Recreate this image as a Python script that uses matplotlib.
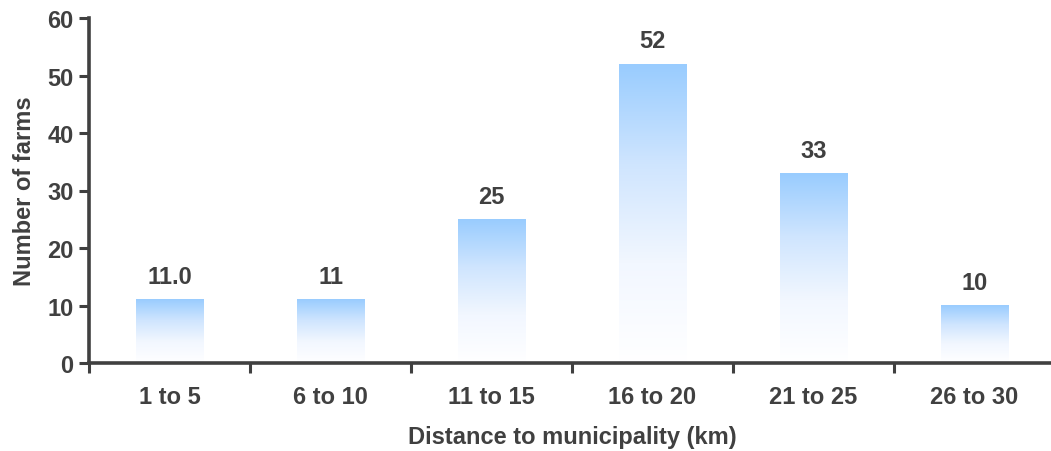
import numpy as np
import matplotlib
matplotlib.use("Agg")
import matplotlib.pyplot as plt
from matplotlib.colors import LinearSegmentedColormap

categories = ["1 to 5", "6 to 10", "11 to 15", "16 to 20", "21 to 25", "26 to 30"]
farms = [11.0, 11, 25, 52, 33, 10]
value_labels = ["11.0", "11", "25", "52", "33", "10"]
y_ticks = [0, 10, 20, 30, 40, 50, 60]

plt.rcParams["font.family"] = ["Liberation Sans", "DejaVu Sans"]
plt.rcParams["font.weight"] = "bold"
text_color = "#404040"
fs = 17

fig = plt.figure(figsize=(10.51, 4.52), dpi=100)
ax = fig.add_axes([89 / 1051, 88 / 452, 966 / 1051, 345 / 452])

cmap = LinearSegmentedColormap.from_list("fade", ["#ffffff", "#f2f7ff", "#cfe5fe", "#99ccff"])
grad = np.linspace(0, 1, 256).reshape(-1, 1)
bar_w = 0.42

x = np.arange(len(categories))
for xi, v, lab in zip(x, farms, value_labels):
    ax.imshow(grad, cmap=cmap, origin="lower", aspect="auto",
              extent=(xi - bar_w / 2, xi + bar_w / 2, 0, v), zorder=2)
    ax.text(xi, v + 2.0, lab, ha="center", va="bottom", fontsize=fs,
            fontweight="bold", color=text_color)

ax.set_xlim(-0.5, len(categories) - 0.5)
ax.set_ylim(0, 60)

for s in ["top", "right"]:
    ax.spines[s].set_visible(False)
for s in ["left", "bottom"]:
    ax.spines[s].set_linewidth(2.6)
    ax.spines[s].set_color(text_color)

ax.set_yticks(y_ticks)
ax.set_yticklabels([str(t) for t in y_ticks])
ax.set_xticks(x)
ax.set_xticklabels(categories)
ax.set_xticks(np.arange(len(categories) + 1) - 0.5, minor=True)
ax.tick_params(axis="x", which="major", length=0, pad=16, labelsize=fs, labelcolor=text_color)
ax.tick_params(axis="x", which="minor", length=7, width=2.2, color=text_color, direction="out")
ax.tick_params(axis="y", length=7, width=2.2, color=text_color, labelsize=fs,
               labelcolor=text_color, pad=4)

fig.text(572 / 1051, 1 - 438 / 452, "Distance to municipality (km)", fontsize=fs,
         fontweight="bold", color=text_color, ha="center", va="center")
ax.set_ylabel("Number of farms", fontsize=fs, fontweight="bold", color=text_color, labelpad=8)

fig.savefig("out.png", dpi=100)
